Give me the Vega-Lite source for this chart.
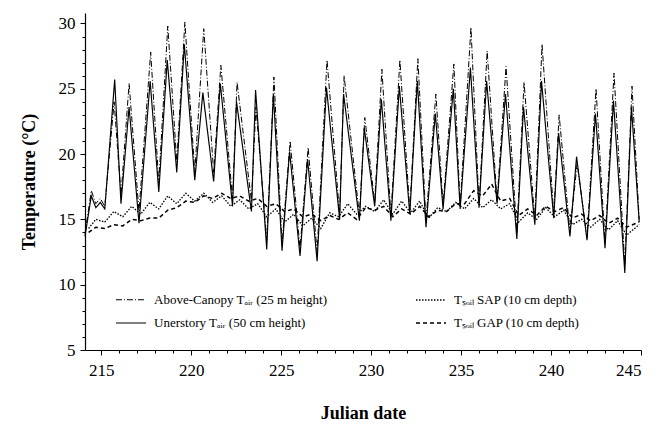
{
  "$schema": "https://vega.github.io/schema/vega-lite/v6.json",
  "width": 556,
  "height": 337,
  "autosize": {"type": "none"},
  "padding": {"left": 85, "top": 13, "right": 16, "bottom": 81},
  "background": "white",
  "config": {
    "font": "Liberation Serif",
    "view": {"stroke": null},
    "axis": {
      "domainColor": "black",
      "domainWidth": 1.2,
      "tickColor": "black",
      "grid": false,
      "labelFont": "Liberation Serif",
      "labelColor": "black",
      "labelFontSize": 17,
      "titleFont": "Liberation Serif",
      "titleFontWeight": "bold",
      "titleColor": "black",
      "titleFontSize": 18,
      "labelOverlap": false
    }
  },
  "data": {
    "values": [
      {"s": "A", "d": 214.1, "t": 13.9}, {"s": "A", "d": 214.45, "t": 17.2}, {"s": "A", "d": 214.7, "t": 16.2},
      {"s": "A", "d": 214.95, "t": 16.6}, {"s": "A", "d": 215.2, "t": 16.0}, {"s": "A", "d": 215.72, "t": 24.0},
      {"s": "A", "d": 216.1, "t": 16.8}, {"s": "A", "d": 216.55, "t": 25.4}, {"s": "A", "d": 217.1, "t": 15.6},
      {"s": "A", "d": 217.75, "t": 27.8}, {"s": "A", "d": 218.2, "t": 17.8}, {"s": "A", "d": 218.7, "t": 29.8},
      {"s": "A", "d": 219.2, "t": 19.4}, {"s": "A", "d": 219.65, "t": 30.1}, {"s": "A", "d": 220.2, "t": 18.6},
      {"s": "A", "d": 220.7, "t": 29.6}, {"s": "A", "d": 221.25, "t": 18.6}, {"s": "A", "d": 221.65, "t": 26.8},
      {"s": "A", "d": 222.3, "t": 16.6}, {"s": "A", "d": 222.55, "t": 25.5}, {"s": "A", "d": 223.35, "t": 16.4},
      {"s": "A", "d": 223.6, "t": 23.6}, {"s": "A", "d": 224.2, "t": 13.4}, {"s": "A", "d": 224.6, "t": 25.9},
      {"s": "A", "d": 225.05, "t": 13.1}, {"s": "A", "d": 225.5, "t": 21.0}, {"s": "A", "d": 226.05, "t": 12.8},
      {"s": "A", "d": 226.5, "t": 20.5}, {"s": "A", "d": 227.0, "t": 12.5}, {"s": "A", "d": 227.55, "t": 27.2},
      {"s": "A", "d": 228.25, "t": 15.4}, {"s": "A", "d": 228.5, "t": 26.0}, {"s": "A", "d": 229.35, "t": 15.3},
      {"s": "A", "d": 229.65, "t": 22.8}, {"s": "A", "d": 230.2, "t": 16.3}, {"s": "A", "d": 230.6, "t": 26.5},
      {"s": "A", "d": 231.1, "t": 15.3}, {"s": "A", "d": 231.6, "t": 27.2}, {"s": "A", "d": 232.15, "t": 15.7},
      {"s": "A", "d": 232.6, "t": 27.3}, {"s": "A", "d": 233.05, "t": 14.9}, {"s": "A", "d": 233.6, "t": 24.6},
      {"s": "A", "d": 234.0, "t": 16.1}, {"s": "A", "d": 234.6, "t": 26.9}, {"s": "A", "d": 234.95, "t": 16.0},
      {"s": "A", "d": 235.55, "t": 29.7}, {"s": "A", "d": 236.0, "t": 16.1}, {"s": "A", "d": 236.45, "t": 27.9},
      {"s": "A", "d": 237.0, "t": 16.4}, {"s": "A", "d": 237.5, "t": 26.7}, {"s": "A", "d": 238.1, "t": 14.0},
      {"s": "A", "d": 238.5, "t": 25.5}, {"s": "A", "d": 239.1, "t": 15.0}, {"s": "A", "d": 239.5, "t": 28.4},
      {"s": "A", "d": 240.15, "t": 15.4}, {"s": "A", "d": 240.45, "t": 23.0}, {"s": "A", "d": 241.05, "t": 14.0},
      {"s": "A", "d": 241.45, "t": 19.3}, {"s": "A", "d": 242.0, "t": 13.6}, {"s": "A", "d": 242.5, "t": 25.0},
      {"s": "A", "d": 243.0, "t": 13.2}, {"s": "A", "d": 243.5, "t": 26.2}, {"s": "A", "d": 244.1, "t": 11.5},
      {"s": "A", "d": 244.5, "t": 25.2}, {"s": "A", "d": 244.9, "t": 15.0},

      {"s": "U", "d": 214.1, "t": 13.7}, {"s": "U", "d": 214.45, "t": 16.8}, {"s": "U", "d": 214.7, "t": 15.9},
      {"s": "U", "d": 214.95, "t": 16.3}, {"s": "U", "d": 215.2, "t": 15.8}, {"s": "U", "d": 215.75, "t": 25.7},
      {"s": "U", "d": 216.1, "t": 16.2}, {"s": "U", "d": 216.55, "t": 23.6}, {"s": "U", "d": 217.1, "t": 14.7},
      {"s": "U", "d": 217.72, "t": 25.6}, {"s": "U", "d": 218.2, "t": 17.1}, {"s": "U", "d": 218.67, "t": 27.2},
      {"s": "U", "d": 219.2, "t": 18.6}, {"s": "U", "d": 219.62, "t": 28.4}, {"s": "U", "d": 220.2, "t": 18.0},
      {"s": "U", "d": 220.65, "t": 24.7}, {"s": "U", "d": 221.25, "t": 17.9}, {"s": "U", "d": 221.62, "t": 25.4},
      {"s": "U", "d": 222.3, "t": 16.0}, {"s": "U", "d": 222.52, "t": 24.0}, {"s": "U", "d": 223.35, "t": 15.6},
      {"s": "U", "d": 223.58, "t": 24.9}, {"s": "U", "d": 224.2, "t": 12.7}, {"s": "U", "d": 224.57, "t": 24.6},
      {"s": "U", "d": 225.05, "t": 12.6}, {"s": "U", "d": 225.47, "t": 20.2}, {"s": "U", "d": 226.05, "t": 12.2},
      {"s": "U", "d": 226.47, "t": 19.6}, {"s": "U", "d": 227.0, "t": 11.8}, {"s": "U", "d": 227.52, "t": 25.1},
      {"s": "U", "d": 228.25, "t": 15.0}, {"s": "U", "d": 228.47, "t": 24.6}, {"s": "U", "d": 229.35, "t": 14.9},
      {"s": "U", "d": 229.62, "t": 22.0}, {"s": "U", "d": 230.2, "t": 16.0}, {"s": "U", "d": 230.57, "t": 24.2},
      {"s": "U", "d": 231.1, "t": 14.9}, {"s": "U", "d": 231.57, "t": 25.2}, {"s": "U", "d": 232.15, "t": 15.4},
      {"s": "U", "d": 232.57, "t": 25.6}, {"s": "U", "d": 233.05, "t": 14.4}, {"s": "U", "d": 233.57, "t": 23.1},
      {"s": "U", "d": 234.0, "t": 15.8}, {"s": "U", "d": 234.57, "t": 25.0}, {"s": "U", "d": 234.95, "t": 15.8},
      {"s": "U", "d": 235.52, "t": 26.6}, {"s": "U", "d": 236.0, "t": 15.9}, {"s": "U", "d": 236.42, "t": 25.6},
      {"s": "U", "d": 237.0, "t": 16.2}, {"s": "U", "d": 237.47, "t": 24.6}, {"s": "U", "d": 238.1, "t": 13.5},
      {"s": "U", "d": 238.47, "t": 23.6}, {"s": "U", "d": 239.1, "t": 14.6}, {"s": "U", "d": 239.47, "t": 25.6},
      {"s": "U", "d": 240.15, "t": 15.1}, {"s": "U", "d": 240.42, "t": 21.6}, {"s": "U", "d": 241.05, "t": 13.7},
      {"s": "U", "d": 241.42, "t": 19.8}, {"s": "U", "d": 242.0, "t": 13.4}, {"s": "U", "d": 242.47, "t": 23.1},
      {"s": "U", "d": 243.0, "t": 12.8}, {"s": "U", "d": 243.47, "t": 24.1}, {"s": "U", "d": 244.1, "t": 10.9},
      {"s": "U", "d": 244.47, "t": 23.6}, {"s": "U", "d": 244.9, "t": 14.8},

      {"s": "G", "d": 214.3, "t": 14.0}, {"s": "G", "d": 214.7, "t": 14.4}, {"s": "G", "d": 215.2, "t": 14.3},
      {"s": "G", "d": 215.7, "t": 14.6}, {"s": "G", "d": 216.2, "t": 14.5}, {"s": "G", "d": 216.7, "t": 15.0},
      {"s": "G", "d": 217.2, "t": 14.9}, {"s": "G", "d": 217.7, "t": 15.1}, {"s": "G", "d": 218.2, "t": 15.1},
      {"s": "G", "d": 218.7, "t": 15.7}, {"s": "G", "d": 219.2, "t": 15.9}, {"s": "G", "d": 219.7, "t": 16.4},
      {"s": "G", "d": 220.2, "t": 16.3}, {"s": "G", "d": 220.7, "t": 16.8}, {"s": "G", "d": 221.2, "t": 16.6},
      {"s": "G", "d": 221.7, "t": 17.0}, {"s": "G", "d": 222.2, "t": 16.6}, {"s": "G", "d": 222.7, "t": 16.8},
      {"s": "G", "d": 223.2, "t": 16.4}, {"s": "G", "d": 223.7, "t": 16.6}, {"s": "G", "d": 224.2, "t": 16.0},
      {"s": "G", "d": 224.7, "t": 16.2}, {"s": "G", "d": 225.2, "t": 15.6}, {"s": "G", "d": 225.7, "t": 15.8},
      {"s": "G", "d": 226.2, "t": 15.2}, {"s": "G", "d": 226.7, "t": 15.4}, {"s": "G", "d": 227.2, "t": 14.9},
      {"s": "G", "d": 227.7, "t": 15.3}, {"s": "G", "d": 228.2, "t": 15.0}, {"s": "G", "d": 228.7, "t": 15.5},
      {"s": "G", "d": 229.2, "t": 15.0}, {"s": "G", "d": 229.7, "t": 15.9}, {"s": "G", "d": 230.2, "t": 15.7},
      {"s": "G", "d": 230.7, "t": 16.0}, {"s": "G", "d": 231.2, "t": 15.2}, {"s": "G", "d": 231.7, "t": 15.8},
      {"s": "G", "d": 232.2, "t": 15.4}, {"s": "G", "d": 232.7, "t": 16.0}, {"s": "G", "d": 233.2, "t": 15.2},
      {"s": "G", "d": 233.7, "t": 15.7}, {"s": "G", "d": 234.2, "t": 15.6}, {"s": "G", "d": 234.7, "t": 16.2},
      {"s": "G", "d": 235.2, "t": 16.2}, {"s": "G", "d": 235.7, "t": 17.2}, {"s": "G", "d": 236.2, "t": 16.8},
      {"s": "G", "d": 236.7, "t": 17.7}, {"s": "G", "d": 237.2, "t": 16.4}, {"s": "G", "d": 237.7, "t": 16.6},
      {"s": "G", "d": 238.2, "t": 15.3}, {"s": "G", "d": 238.7, "t": 15.8}, {"s": "G", "d": 239.2, "t": 15.3},
      {"s": "G", "d": 239.7, "t": 16.0}, {"s": "G", "d": 240.2, "t": 15.6}, {"s": "G", "d": 240.7, "t": 15.9},
      {"s": "G", "d": 241.2, "t": 15.1}, {"s": "G", "d": 241.7, "t": 15.4}, {"s": "G", "d": 242.2, "t": 14.9},
      {"s": "G", "d": 242.7, "t": 15.3}, {"s": "G", "d": 243.2, "t": 14.7}, {"s": "G", "d": 243.7, "t": 15.1},
      {"s": "G", "d": 244.2, "t": 14.4}, {"s": "G", "d": 244.9, "t": 14.8},

      {"s": "S", "d": 214.3, "t": 14.3}, {"s": "S", "d": 214.7, "t": 15.0}, {"s": "S", "d": 215.2, "t": 14.8},
      {"s": "S", "d": 215.7, "t": 15.6}, {"s": "S", "d": 216.2, "t": 15.2}, {"s": "S", "d": 216.7, "t": 16.0},
      {"s": "S", "d": 217.2, "t": 15.4}, {"s": "S", "d": 217.7, "t": 16.3}, {"s": "S", "d": 218.2, "t": 15.8},
      {"s": "S", "d": 218.7, "t": 16.8}, {"s": "S", "d": 219.2, "t": 16.2}, {"s": "S", "d": 219.7, "t": 17.0},
      {"s": "S", "d": 220.2, "t": 16.4}, {"s": "S", "d": 220.7, "t": 17.0}, {"s": "S", "d": 221.2, "t": 16.3},
      {"s": "S", "d": 221.7, "t": 16.8}, {"s": "S", "d": 222.2, "t": 16.0}, {"s": "S", "d": 222.7, "t": 16.5},
      {"s": "S", "d": 223.2, "t": 15.8}, {"s": "S", "d": 223.7, "t": 16.2}, {"s": "S", "d": 224.2, "t": 15.2},
      {"s": "S", "d": 224.7, "t": 15.8}, {"s": "S", "d": 225.2, "t": 14.8}, {"s": "S", "d": 225.7, "t": 15.4},
      {"s": "S", "d": 226.2, "t": 14.5}, {"s": "S", "d": 226.7, "t": 15.1}, {"s": "S", "d": 227.2, "t": 14.3},
      {"s": "S", "d": 227.7, "t": 15.5}, {"s": "S", "d": 228.2, "t": 15.2}, {"s": "S", "d": 228.7, "t": 16.2},
      {"s": "S", "d": 229.2, "t": 15.4}, {"s": "S", "d": 229.7, "t": 16.0}, {"s": "S", "d": 230.2, "t": 15.6},
      {"s": "S", "d": 230.7, "t": 16.5}, {"s": "S", "d": 231.2, "t": 15.4}, {"s": "S", "d": 231.7, "t": 16.4},
      {"s": "S", "d": 232.2, "t": 15.5}, {"s": "S", "d": 232.7, "t": 16.4}, {"s": "S", "d": 233.2, "t": 15.1},
      {"s": "S", "d": 233.7, "t": 15.9}, {"s": "S", "d": 234.2, "t": 15.6}, {"s": "S", "d": 234.7, "t": 16.3},
      {"s": "S", "d": 235.2, "t": 15.8}, {"s": "S", "d": 235.7, "t": 16.6}, {"s": "S", "d": 236.2, "t": 15.9},
      {"s": "S", "d": 236.7, "t": 16.5}, {"s": "S", "d": 237.2, "t": 15.8}, {"s": "S", "d": 237.7, "t": 16.2},
      {"s": "S", "d": 238.2, "t": 14.8}, {"s": "S", "d": 238.7, "t": 15.5}, {"s": "S", "d": 239.2, "t": 15.0},
      {"s": "S", "d": 239.7, "t": 15.9}, {"s": "S", "d": 240.2, "t": 15.2}, {"s": "S", "d": 240.7, "t": 15.7},
      {"s": "S", "d": 241.2, "t": 14.6}, {"s": "S", "d": 241.7, "t": 15.0}, {"s": "S", "d": 242.2, "t": 14.4},
      {"s": "S", "d": 242.7, "t": 15.0}, {"s": "S", "d": 243.2, "t": 14.2}, {"s": "S", "d": 243.7, "t": 14.9},
      {"s": "S", "d": 244.2, "t": 13.8}, {"s": "S", "d": 244.9, "t": 14.6}
    ]
  },
  "mark": {"type": "line", "color": "black"},
  "encoding": {
    "x": {
      "field": "d",
      "type": "quantitative",
      "scale": {"domain": [214.1, 245], "nice": false, "zero": false},
      "axis": {
        "title": "Julian date",
        "titlePadding": 26,
        "values": [215, 216, 217, 218, 219, 220, 221, 222, 223, 224, 225, 226, 227, 228, 229, 230, 231, 232, 233, 234, 235, 236, 237, 238, 239, 240, 241, 242, 243, 244, 245],
        "labelExpr": "datum.value % 5 === 0 ? datum.label : ''",
        "tickSize": {"condition": {"test": "datum.value % 5 === 0", "value": 5}, "value": 3},
        "labelPadding": 7
      }
    },
    "y": {
      "field": "t",
      "type": "quantitative",
      "scale": {"domain": [5, 30.8], "nice": false, "zero": false},
      "axis": {
        "title": "Temperature (°C)",
        "titlePadding": 20,
        "values": [5, 6, 7, 8, 9, 10, 11, 12, 13, 14, 15, 16, 17, 18, 19, 20, 21, 22, 23, 24, 25, 26, 27, 28, 29, 30],
        "labelExpr": "datum.value % 5 === 0 ? datum.label : ''",
        "tickSize": {"condition": {"test": "datum.value % 5 === 0", "value": 5}, "value": 3},
        "labelPadding": 5
      }
    },
    "strokeWidth": {
      "field": "s",
      "type": "nominal",
      "scale": {"domain": ["A", "U", "S", "G"], "range": [1.0, 1.5, 1.0, 1.1]},
      "legend": null
    },
    "strokeDash": {
      "field": "s",
      "type": "nominal",
      "scale": {"domain": ["A", "U", "S", "G"], "range": [[6, 2, 1, 2], [1, 0], [1.5, 1.5], [4, 3]]},
      "legend": {
        "orient": "none",
        "legendX": 30,
        "legendY": 271,
        "columns": 2,
        "title": null,
        "symbolType": "stroke",
        "symbolSize": 900,
        "symbolStrokeColor": "black",
        "symbolStrokeWidth": 1.2,
        "labelFont": "Liberation Serif",
        "labelFontSize": 13,
        "labelColor": "black",
        "labelOffset": 7,
        "columnPadding": 85,
        "rowPadding": 0,
        "labelLimit": 400,
        "labelExpr": "datum.value === 'A' ? 'Above-Canopy Tₐᵢᵣ (25 m height)' : datum.value === 'U' ? 'Unerstory Tₐᵢᵣ (50 cm height)' : datum.value === 'S' ? 'Tₛₒᵢₗ SAP (10 cm depth)' : 'Tₛₒᵢₗ GAP (10 cm depth)'"
      }
    }
  }
}
